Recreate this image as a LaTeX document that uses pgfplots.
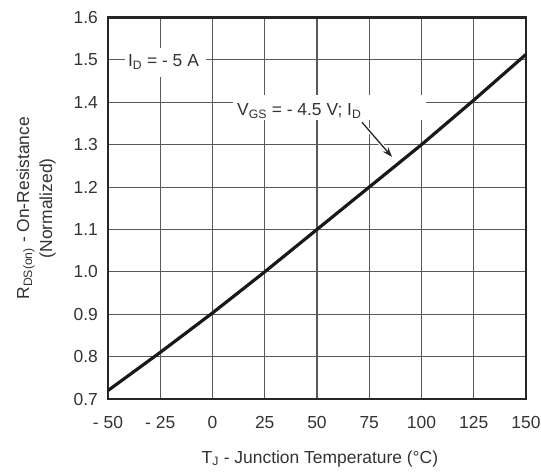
\documentclass[border=0pt]{standalone}
\usepackage{pgfplots}
\pgfplotsset{compat=1.18}
\usepackage{fontspec}
\setmainfont{Liberation Sans}
\usetikzlibrary{arrows.meta}
\begin{document}
\begin{tikzpicture}
\begin{axis}[
  name=ax,
  scale only axis,
  width=418bp, height=381.5bp,
  xmin=-50, xmax=150, ymin=0.7, ymax=1.6,
  xtick={-50,-25,0,25,50,75,100,125,150},
  xticklabels={- 50,- 25,0,25,50,75,100,125,150},
  ytick={0.7,0.8,0.9,1.0,1.1,1.2,1.3,1.4,1.5,1.6},
  yticklabels={0.7,0.8,0.9,1.0,1.1,1.2,1.3,1.4,1.5,1.6},
  major tick length=0pt,
  grid=major,
  major grid style={line width=1.1pt, black!65},
  axis line style={line width=2.2pt, black!85},
  tick label style={font=\fontsize{17.5}{21}\selectfont, text=black!80, inner sep=0pt},
  label style={font=\fontsize{17.5}{23}\selectfont, text=black!80},
  xticklabel style={anchor=base, yshift=-29bp},
  yticklabel style={anchor=east, xshift=-10bp},
  xlabel={T\textsubscript{J} - Junction Temperature (°C)},
  xlabel style={at={(axis description cs:0.507,-0.1678)}, anchor=base},
  ylabel={R\textsubscript{DS(on)} - On-Resistance\\(Normalized)},
  ylabel style={align=center, at={(axis description cs:-0.172,0.5)}, anchor=center},
  clip=false,
]
% white boxes behind the annotations
\fill[white] (axis cs:-41.9,1.460) rectangle (axis cs:-3.1,1.528);
\fill[white] (axis cs:9.8,1.358) rectangle (axis cs:102.2,1.417);
\addplot[line width=3.2pt, black!90] coordinates {
(-50,0.720) (-25,0.810) (0,0.903) (25,1.000) (50,1.100) (75,1.200) (100,1.300) (125,1.405) (150,1.513)
};
\node[inner sep=0pt, font=\fontsize{17.5}{21}\selectfont, text=black!80, anchor=base west] at (axis cs:-40.5,1.484) {I\textsubscript{D} = - 5 A};
\node[inner sep=0pt, font=\fontsize{17.5}{21}\selectfont, text=black!80, anchor=base west] at (axis cs:11.7,1.368) {V\textsubscript{GS} = - 4.5 V; I\textsubscript{D}};
\draw[line width=4pt, white, shorten >=-2pt] (axis cs:71.5,1.353) -- (axis cs:85.9,1.271);
\draw[line width=1.3pt, -{Stealth[length=10pt,width=7pt]}, black!85] (axis cs:71.5,1.353) -- (axis cs:85.9,1.271);
\end{axis}
\pgfresetboundingbox
\path ([xshift=-108bp,yshift=-73bp]ax.south west) rectangle ([xshift=15bp,yshift=17.5bp]ax.north east);
\end{tikzpicture}
\end{document}
